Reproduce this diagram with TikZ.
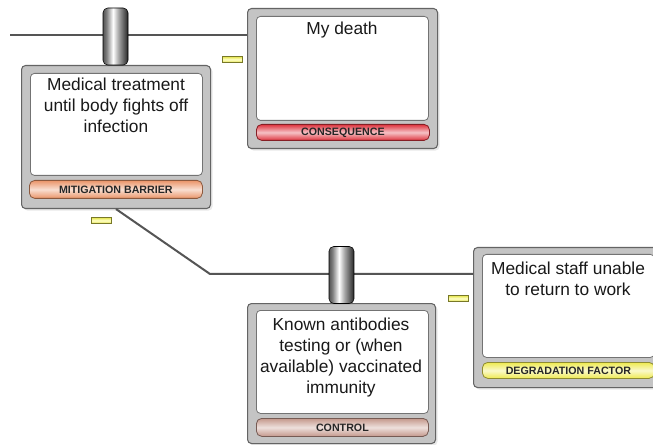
\documentclass[tikz,border=0pt]{standalone}
\usepackage{fontspec}
\setmainfont{Liberation Sans}
\usetikzlibrary{shadows}
\definecolor{linegray}{RGB}{85,85,85}
\definecolor{boxgray}{RGB}{196,196,196}
\definecolor{boxedge}{RGB}{100,100,100}
\definecolor{mitA}{RGB}{234,148,104}
\definecolor{conA}{RGB}{222,52,62}
\definecolor{ctlA}{RGB}{196,152,140}
\definecolor{degA}{RGB}{238,234,80}
\definecolor{flagA}{RGB}{225,225,60}
\definecolor{flagB}{RGB}{255,255,200}
\definecolor{flagE}{RGB}{120,120,40}
\pgfdeclarehorizontalshading{cylshade}{100bp}{color(0bp)=(black); color(18bp)=(black!85); color(32bp)=(black!50); color(45bp)=(white); color(56bp)=(black!35); color(75bp)=(black!85); color(100bp)=(black)}
\tikzset{
  conn/.style={draw=linegray, line width=1.5pt},
  outerbox/.style={draw=boxedge, fill=boxgray, line width=0.8pt, rounded corners=3pt,
    minimum width=142.5pt, minimum height=105.75pt, inner sep=0pt, anchor=north west,
    drop shadow={opacity=0.18, shadow xshift=1.5pt, shadow yshift=-1.5pt}},
  innerbox/.style={draw=black!55, fill=white, line width=0.6pt, rounded corners=3pt,
    minimum width=129pt, minimum height=77.25pt, inner sep=0pt, anchor=north west},
  labbar/.style={draw=#1!60!black, line width=0.6pt, rounded corners=4pt,
    minimum width=129.75pt, minimum height=13.5pt, inner sep=0pt, anchor=north west,
    top color=#1, bottom color=#1, middle color=white!70!#1,
    font=\fontsize{8}{9}\selectfont\bfseries, text=black!85},
  maintext/.style={align=center, inner sep=0pt, anchor=north, text=black!90,
    font=\fontsize{13}{15.75}\selectfont},
  cylbox/.style={shading=cylshade, draw=black, line width=0.4pt, rounded corners=3.5pt,
    minimum width=18.75pt, minimum height=42.75pt, inner sep=0pt},
  flagbox/.style={draw=flagE, line width=0.6pt, top color=flagA, bottom color=flagA,
    middle color=flagB, minimum width=15pt, minimum height=5pt, inner sep=0pt}
}
\begin{document}
\begin{tikzpicture}[x=0.75pt, y=-0.75pt]
\clip (0,0) rectangle (653,445);
\fill[white] (0,0) rectangle (653,445);

\coordinate (t0) at (10,35);
\coordinate (bend) at (210,274);

% Consequence box
\node[outerbox, minimum width=142.5pt, minimum height=105pt] (C) at (247,8) {};
\node[innerbox, minimum height=78pt] (C-in) at ([shift={(9,8)}]C.north west) {};
\node[labbar=conA, minimum height=12pt] (C-lab) at ([shift={(9,116)}]C.north west) {CONSEQUENCE};
\node[maintext] (C-txt) at (342,22) {My death};

% Mitigation box
\node[outerbox, minimum width=141.75pt, minimum height=107.25pt] (M) at (21,65) {};
\node[innerbox, minimum height=76.5pt] (M-in) at ([shift={(9,8)}]M.north west) {};
\node[labbar=mitA] (M-lab) at ([shift={(8,115)}]M.north west) {MITIGATION BARRIER};
\node[maintext] (M-txt) at (116,78) {Medical treatment\\until body fights off\\infection};

% Control box
\node[outerbox, minimum width=141pt, minimum height=105pt] (K) at (247,303) {};
\node[innerbox] (K-in) at ([shift={(9,7)}]K.north west) {};
\node[labbar=ctlA, minimum width=129pt] (K-lab) at ([shift={(9,115)}]K.north west) {CONTROL};
\node[maintext] (K-txt) at (341,318) {Known antibodies\\testing or (when\\available) vaccinated\\immunity};

% Degradation factor box
\node[outerbox, minimum width=142.5pt, minimum height=105pt] (D) at (473,247) {};
\node[innerbox] (D-in) at ([shift={(9,7)}]D.north west) {};
\node[labbar=degA, minimum width=129pt, minimum height=12pt] (D-lab) at ([shift={(9,115)}]D.north west) {DEGRADATION FACTOR};
\node[maintext] (D-txt) at (568,262) {Medical staff unable\\to return to work};

% connectors
\draw[conn] (t0) -- (t0 -| C.west);
\draw[conn] (M.south) -- (bend) -- (bend -| D.west);

% barrier cylinders
\node[cylbox] (B1) at (115.5,36.5) {};
\node[cylbox] (B2) at (341.5,275) {};

% small markers
\node[flagbox] (F1) at (232.5,59.5) {};
\node[flagbox] (F2) at (101.5,220.5) {};
\node[flagbox] (F3) at (458,298.5) {};
\end{tikzpicture}
\end{document}
